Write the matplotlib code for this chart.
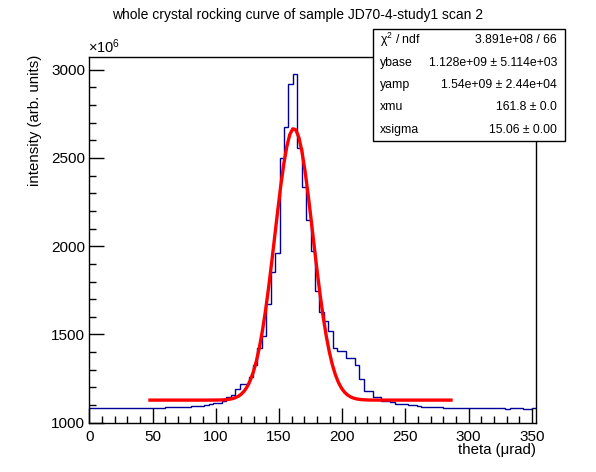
import numpy as np
import matplotlib.pyplot as plt
from matplotlib.patches import Rectangle
from matplotlib.ticker import MultipleLocator

plt.rcParams['font.family'] = ['Liberation Sans', 'DejaVu Sans']

# histogram: 101 bins of 3.5 urad starting at 0, intensity in units of 1e6
theta_lo = 0.0
bin_width = 3.5
counts = [
    1085, 1085, 1085, 1085, 1085, 1085, 1085, 1085, 1085, 1085,
    1085, 1085, 1085, 1085, 1085, 1085, 1085, 1091, 1091, 1091,
    1091, 1091, 1091, 1097, 1097, 1097, 1102, 1108, 1114, 1114,
    1125, 1148, 1157, 1193, 1220, 1220, 1261, 1328, 1426, 1492,
    1674, 1856, 1962, 2499, 2676, 2920, 2975, 2555, 2335, 2146,
    1974, 1746, 1629, 1576, 1521, 1424, 1409, 1409, 1367, 1367,
    1328, 1250, 1182, 1182, 1148, 1148, 1125, 1125, 1116, 1108,
    1108, 1108, 1102, 1102, 1097, 1091, 1091, 1091, 1091, 1091,
    1085, 1085, 1085, 1085, 1085, 1085, 1085, 1085, 1085, 1085,
    1085, 1085, 1085, 1085, 1080, 1085, 1085, 1085, 1080, 1080,
    1085,
]

# fit results (gaussian on flat base)
ybase = 1.128e9
yamp = 1.54e9
xmu = 161.8
xsigma = 15.06
fit_lo, fit_hi = 48.0, 286.0

stat_names = ['χ$^{2}$ / ndf', 'ybase', 'yamp', 'xmu', 'xsigma']
stat_vals = ['3.891e+08 / 66', '1.128e+09 ± 5.114e+03',
             '1.54e+09 ± 2.44e+04', '161.8 ± 0.0', '15.06 ± 0.00']

W, H = 596, 472
plt.rcParams['mathtext.fontset'] = 'custom'
plt.rcParams['mathtext.rm'] = 'Liberation Sans'
plt.rcParams['mathtext.it'] = 'Liberation Sans'
plt.rcParams['mathtext.sf'] = 'Liberation Sans'
fig = plt.figure(figsize=(W / 100, H / 100), dpi=100)

def fx(px):
    return px / W

def fy(py):
    return 1 - py / H

ax = fig.add_axes([fx(89.3), fy(422.7), fx(536.3) - fx(89.3), fy(56.7) - fy(422.7)])

edges = theta_lo + bin_width * np.arange(len(counts) + 1)
ax.stairs(counts, edges, color='#000099', lw=1.0, baseline=None)

xf = np.linspace(fit_lo, fit_hi, 100)
yf = (ybase + yamp * np.exp(-0.5 * ((xf - xmu) / xsigma) ** 2)) / 1e6
ax.plot(xf, yf, color='red', lw=2.4)

ax.set_xlim(0, 353.5)
ax.set_ylim(1000, 3074)
ax.xaxis.set_major_locator(MultipleLocator(50))
ax.xaxis.set_minor_locator(MultipleLocator(10))
ax.yaxis.set_major_locator(MultipleLocator(500))
ax.yaxis.set_minor_locator(MultipleLocator(100))
ax.tick_params(which='major', direction='in', length=10.5, width=1, labelsize=11,
               top=False, right=False)
ax.tick_params(axis='x', which='major', pad=5)
ax.tick_params(axis='y', which='major', pad=3)
ax.tick_params(which='minor', direction='in', length=5.2, width=1, top=False, right=False)
for s in ax.spines.values():
    s.set_linewidth(1)

fig.text(0.5, fy(15.5), 'whole crystal rocking curve of sample JD70-4-study1 scan 2',
         ha='center', va='center', fontsize=10)
fig.text(fx(35), fy(55), 'intensity (arb. units)', rotation=90, ha='center', va='top',
         fontsize=10.8)
fig.text(fx(536.5), fy(450), 'theta (μrad)', ha='right', va='center', fontsize=10.8)
fig.text(fx(88), fy(47), r'$\times10^{6}$', ha='left', va='center', fontsize=10.5)

# stats box
bx0, bx1, by0, by1 = 373, 565, 29, 141
fig.patches.append(Rectangle((fx(bx0), fy(by1)), fx(bx1) - fx(bx0), fy(by0) - fy(by1),
                             transform=fig.transFigure, facecolor='white',
                             edgecolor='black', lw=1, zorder=5))
row_h = (by1 - by0) / len(stat_names)
for i, (nm, val) in enumerate(zip(stat_names, stat_vals)):
    yc = by0 + row_h * (i + 0.5)
    fig.text(fx(380), fy(yc), nm, ha='left', va='center', fontsize=8.8, zorder=6)
    fig.text(fx(557), fy(yc), val, ha='right', va='center', fontsize=8.8, zorder=6)

fig.savefig('out.png', dpi=100)
